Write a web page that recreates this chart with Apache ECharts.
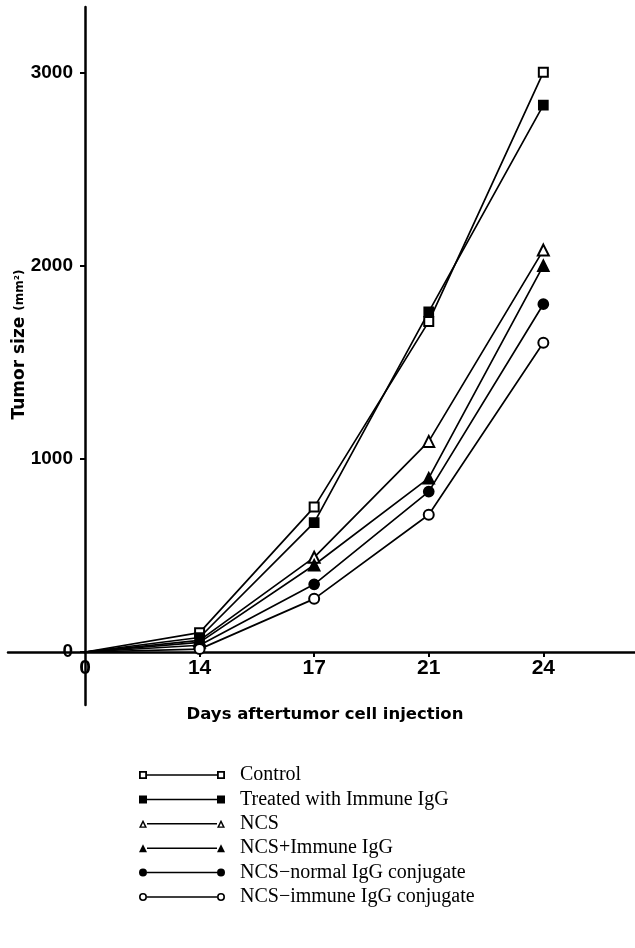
<!DOCTYPE html>
<html><head><meta charset="utf-8">
<script src="https://cdn.jsdelivr.net/npm/echarts@6/dist/echarts.min.js"></script>
<style>html,body{margin:0;padding:0;background:#fff}#c{width:635px;height:948px}</style>
</head><body><div id="c"></div>
<script>
const days = ['0','14','17','21','24'];
const seriesNames = ['Control','Treated with Immune IgG','NCS','NCS+Immune IgG','NCS\u2212normal IgG conjugate','NCS\u2212immune IgG conjugate'];
const control       = [0, 100, 750, 1710, 3000];
const treatedImmune = [0, 75, 670, 1760, 2830];
const ncs           = [0, 60, 490, 1090, 2080];
const ncsImmune     = [0, 50, 450, 900, 2000];
const ncsNormalConj = [0, 35, 350, 830, 1800];
const ncsImmuneConj = [0, 15, 275, 710, 1600];
const yTicks = [0, 1000, 2000, 3000];

const allValues = [control, treatedImmune, ncs, ncsImmune, ncsNormalConj, ncsImmuneConj];
const symbols = ['emptyRect','rect','emptyTriangle','triangle','circle','emptyCircle'];
const sizes = [9, 9, 11, 11, 10, 10];

// legend icons: marker - line - marker
function sq(x, open){ let p = `M${x} 0 L${x+8} 0 L${x+8} 8 L${x} 8 Z`; if(open) p += ` M${x+1.8} 1.8 L${x+1.8} 6.2 L${x+6.2} 6.2 L${x+6.2} 1.8 Z`; return p; }
function tri(x, open){ let p = `M${x} 8 L${x+4} 0 L${x+8} 8 Z`; if(open) p += ` M${x+2.3} 6.6 L${x+5.7} 6.6 L${x+4} 3.1 Z`; return p; }
function circ(x, open){ let p = `M${x} 4 A4 4 0 1 0 ${x+8} 4 A4 4 0 1 0 ${x} 4 Z`; if(open) p += ` M${x+1.6} 4 A2.4 2.4 0 1 1 ${x+6.4} 4 A2.4 2.4 0 1 1 ${x+1.6} 4 Z`; return p; }
const lineBar = 'M8 3.25 L78 3.25 L78 4.75 L8 4.75 Z';
const iconFns = [x=>sq(x,true), x=>sq(x,false), x=>tri(x,true), x=>tri(x,false), x=>circ(x,false), x=>circ(x,true)];
const icons = iconFns.map(f => 'path://' + f(0) + ' ' + lineBar + ' ' + f(78));

const chart = echarts.init(document.getElementById('c'), null, {renderer:'canvas'});
const axisFont = {fontFamily:'"Liberation Sans Narrow","Liberation Sans",Arial,sans-serif', fontWeight:'bold', color:'#000'};
const axisLineStyle = {color:'#000', width:2.5};
const hidden = {show:false};

chart.setOption({
  backgroundColor:'#fff',
  animation:false,
  grid:[
    {left:85, right:0, top:7, bottom:296, containLabel:false, outerBoundsMode:'none'},
    {left:8, width:77, top:7, bottom:296, containLabel:false, outerBoundsMode:'none'},
    {left:85, width:10, top:652, bottom:243, containLabel:false, outerBoundsMode:'none'}
  ],
  xAxis:[{
    gridIndex:0, type:'value', min:0, max:4.8,
    splitLine:hidden,
    axisLine:{show:true, onZero:false, lineStyle:axisLineStyle},
    axisTick:{show:true, customValues:[1,2,3,4], length:5, lineStyle:{color:'#000', width:2}},
    axisLabel:{customValues:[0,1,2,3,4], formatter:v=>days[Math.round(v)], fontSize:21, margin:6, ...axisFont},
    name:'Days aftertumor cell injection', nameLocation:'middle', nameGap:54, nameMoveOverlap:false,
    nameTextStyle:{fontFamily:'"DejaVu Sans",sans-serif', fontSize:16.5, fontWeight:'bold', color:'#000', padding:[0,70,0,0]}
  },{
    gridIndex:1, type:'value', min:0, max:1,
    splitLine:hidden, axisTick:hidden, axisLabel:hidden,
    axisLine:{show:true, onZero:false, lineStyle:axisLineStyle}
  },{
    gridIndex:2, type:'value', min:0, max:1, show:false
  }],
  yAxis:[{
    gridIndex:0, type:'value', min:0, max:3338,
    splitLine:hidden,
    axisLine:{show:true, onZero:false, lineStyle:axisLineStyle},
    axisTick:{show:true, customValues:yTicks, length:5, lineStyle:{color:'#000', width:2}},
    axisLabel:{customValues:yTicks, formatter:v=>String(v), fontSize:19, margin:12, ...axisFont},
    name:'Tumor size {u|(mm\u00b2)}', nameLocation:'middle', nameGap:57, nameRotate:90, nameMoveOverlap:false,
    nameTextStyle:{fontFamily:'"DejaVu Sans",sans-serif', fontSize:17, fontWeight:'bold', color:'#000', padding:[0,30,0,0],
      rich:{u:{fontFamily:'"DejaVu Sans",sans-serif', fontSize:12, fontWeight:'bold', color:'#000'}}}
  },{
    gridIndex:1, type:'value', min:0, max:1, show:false
  },{
    gridIndex:2, type:'value', min:0, max:1,
    splitLine:hidden, axisTick:hidden, axisLabel:hidden,
    axisLine:{show:true, onZero:false, lineStyle:axisLineStyle}
  }],
  legend:{
    left:139, top:765, orient:'vertical', itemWidth:86, itemHeight:8, itemGap:4.4, padding:0,
    data: seriesNames.map((n,i)=>({name:n, icon:icons[i], itemStyle:{color:'#000', borderWidth:0}})),
    textStyle:{fontFamily:'"Liberation Serif","Times New Roman",serif', fontSize:20, color:'#000', lineHeight:20, padding:[0,0,0,10]},
    selectedMode:false
  },
  series: seriesNames.map((n,i)=>({
    name:n, type:'line', xAxisIndex:0, yAxisIndex:0,
    data: allValues[i].map((v,k)=> k===0 ? {value:[k,v], symbol:'none'} : [k,v]),
    symbol:symbols[i], symbolSize:sizes[i], showAllSymbol:true,
    lineStyle:{color:'#000', width:1.7},
    itemStyle:{color:'#000', borderColor:'#000', borderWidth:1.7},
    z: 3
  }))
});
</script></body></html>
